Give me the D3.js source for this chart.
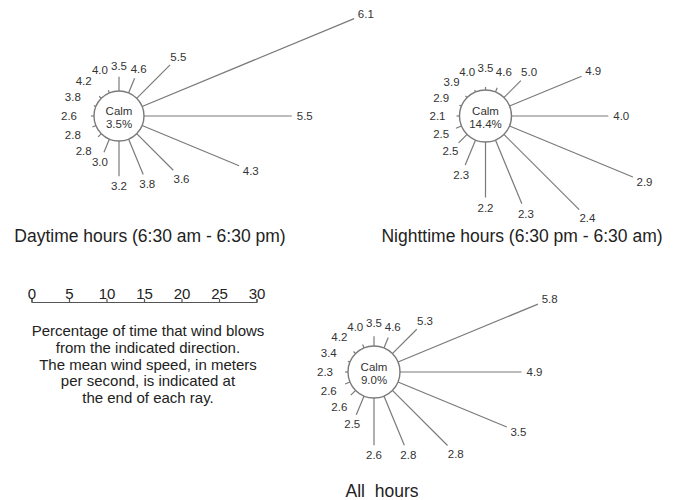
<!DOCTYPE html>
<html lang="en">
<head>
  <meta charset="UTF-8">
  <title>Wind roses</title>
  <script src="https://cdn.jsdelivr.net/npm/d3@7"></script>
  <style>
    html, body { margin: 0; padding: 0; background: #fff; }
    svg { display: block; font-family: "Liberation Sans", Arial, sans-serif; }
    .ray { stroke: #7a7a7a; stroke-width: 1.2; }
    .calm { fill: #fff; stroke: #7a7a7a; stroke-width: 1.4; }
    .speed { fill: #333; font-size: 11.5px; }
    .calmText { fill: #333; font-size: 11.5px; }
    .title { fill: #222; font-size: 17.5px; white-space: pre; }
    .legend { fill: #222; font-size: 15px; }
    .scale text { fill: #222; font-size: 15px; font-family: "Liberation Sans", Arial, sans-serif; }
    .scale path, .scale line { stroke: #555; stroke-width: 1.2; }
  </style>
</head>
<body>
  <div id="chart"></div>

  <script type="text/javascript">
    // 16 compass directions, clockwise from north
    const directions = ["N", "NNE", "NE", "ENE", "E", "ESE", "SE", "SSE",
                        "S", "SSW", "SW", "WSW", "W", "WNW", "NW", "NNW"];

    // percentage of time wind blows from each direction
    const dayPercent   = [1.9, 2.1, 6.3, 30.6, 19.7, 14.0, 6.9, 5.1, 4.7, 1.9, 0.6, 0.5, 0.4, 0.3, 0.4, 0.4];
    const nightPercent = [0.4, 0.6, 3.2, 10.4, 12.9, 17.8, 14.2, 9.2, 7.4, 3.6, 1.6, 0.8, 0.4, 0.3, 0.3, 0.3];
    const allPercent   = [1.3, 1.5, 4.6, 20.2, 16.2, 15.7, 10.4, 7.1, 6.3, 2.7, 0.9, 0.7, 0.4, 0.3, 0.4, 0.5];

    // mean wind speed (m/s) at the end of each ray
    const daySpeed   = [3.5, 4.6, 5.5, 6.1, 5.5, 4.3, 3.6, 3.8, 3.2, 3.0, 2.8, 2.8, 2.6, 3.8, 4.2, 4.0];
    const nightSpeed = [3.5, 4.6, 5.0, 4.9, 4.0, 2.9, 2.4, 2.3, 2.2, 2.3, 2.5, 2.5, 2.1, 2.9, 3.9, 4.0];
    const allSpeed   = [3.5, 4.6, 5.3, 5.8, 4.9, 3.5, 2.8, 2.8, 2.6, 2.5, 2.6, 2.6, 2.3, 3.4, 4.2, 4.0];

    const calmPercent = [3.5, 14.4, 9.0];
    const titles = ["Daytime hours (6:30 am - 6:30 pm)",
                    "Nighttime hours (6:30 pm - 6:30 am)",
                    "All  hours"];

    const scaleTicks = [0, 5, 10, 15, 20, 25, 30];
    const legendLines = ["Percentage of time that wind blows",
                         "from the indicated direction.",
                         "The mean wind speed, in meters",
                         "per second, is indicated at",
                         "the end of each ray."];

    const width = 683, height = 500;

    const svg = d3.select("#chart")
      .append("svg")
      .attr("width", width)
      .attr("height", height);

    // percent -> ray length in px (same scale used by the scale bar)
    const len = d3.scaleLinear().domain([0, 30]).range([0, 225]);
    const angle = d3.scalePoint().domain(directions).range([0, 337.5]);
    const fmt = d3.format(".1f");

    const roses = [
      { pct: dayPercent, speed: daySpeed, calm: calmPercent[0], title: titles[0],
        cx: 119, cy: 116, r: 25, minR: 50, tx: 150, ty: 242 },
      { pct: nightPercent, speed: nightSpeed, calm: calmPercent[1], title: titles[1],
        cx: 485.5, cy: 116, r: 26, minR: 48, tx: 522, ty: 242 },
      { pct: allPercent, speed: allSpeed, calm: calmPercent[2], title: titles[2],
        cx: 374, cy: 372, r: 26, minR: 49, tx: 382, ty: 497 }
    ];

    function drawRose(rose) {
      const g = svg.append("g")
        .attr("transform", `translate(${rose.cx},${rose.cy})`);

      const data = directions.map(function(d, i) {
        const a = angle(d) * Math.PI / 180;
        return { dir: d, pct: rose.pct[i], speed: rose.speed[i],
                 sx: Math.sin(a), sy: -Math.cos(a) };
      });

      g.selectAll(".ray")
        .data(data)
        .enter()
        .append("line")
        .attr("class", "ray")
        .attr("x1", d => d.sx * rose.r)
        .attr("y1", d => d.sy * rose.r)
        .attr("x2", d => d.sx * (rose.r + len(d.pct)))
        .attr("y2", d => d.sy * (rose.r + len(d.pct)));

      g.append("circle")
        .attr("class", "calm")
        .attr("r", rose.r);

      //speed labels just past the end of each ray
      g.selectAll(".speed")
        .data(data)
        .enter()
        .append("text")
        .attr("class", "speed")
        .attr("text-anchor", "middle")
        .attr("dy", "0.35em")
        .each(function(d) {
          const off = Math.sqrt(Math.pow(8 * d.sx, 2) + Math.pow(5 * d.sy, 2)) + 5;
          const dist = Math.max(rose.r + len(d.pct) + off, rose.minR);
          d3.select(this)
            .attr("x", d.sx * dist)
            .attr("y", d.sy * dist);
        })
        .text(d => fmt(d.speed));

      g.append("text")
        .attr("class", "calmText")
        .attr("text-anchor", "middle")
        .attr("y", -1.5)
        .text("Calm");

      g.append("text")
        .attr("class", "calmText")
        .attr("text-anchor", "middle")
        .attr("y", 12)
        .text(fmt(rose.calm) + "%");

      svg.append("text")
        .attr("class", "title")
        .attr("text-anchor", "middle")
        .attr("x", rose.tx)
        .attr("y", rose.ty)
        .text(rose.title);
    }

    roses.forEach(drawRose);

    // scale bar
    svg.append("g")
      .attr("class", "scale")
      .attr("transform", "translate(31.5,302)")
      .call(d3.axisTop(len).tickValues(scaleTicks).tickSize(3).tickPadding(0).tickFormat(d3.format("d")))
      .call(g => g.selectAll("text").attr("font-size", null).attr("font-family", null));

    svg.append("g")
      .selectAll("text")
      .data(legendLines)
      .enter()
      .append("text")
      .attr("class", "legend")
      .attr("text-anchor", "middle")
      .attr("x", 148)
      .attr("y", (d, i) => 336 + i * 16.8)
      .text(d => d);
  </script>
</body>
</html>
